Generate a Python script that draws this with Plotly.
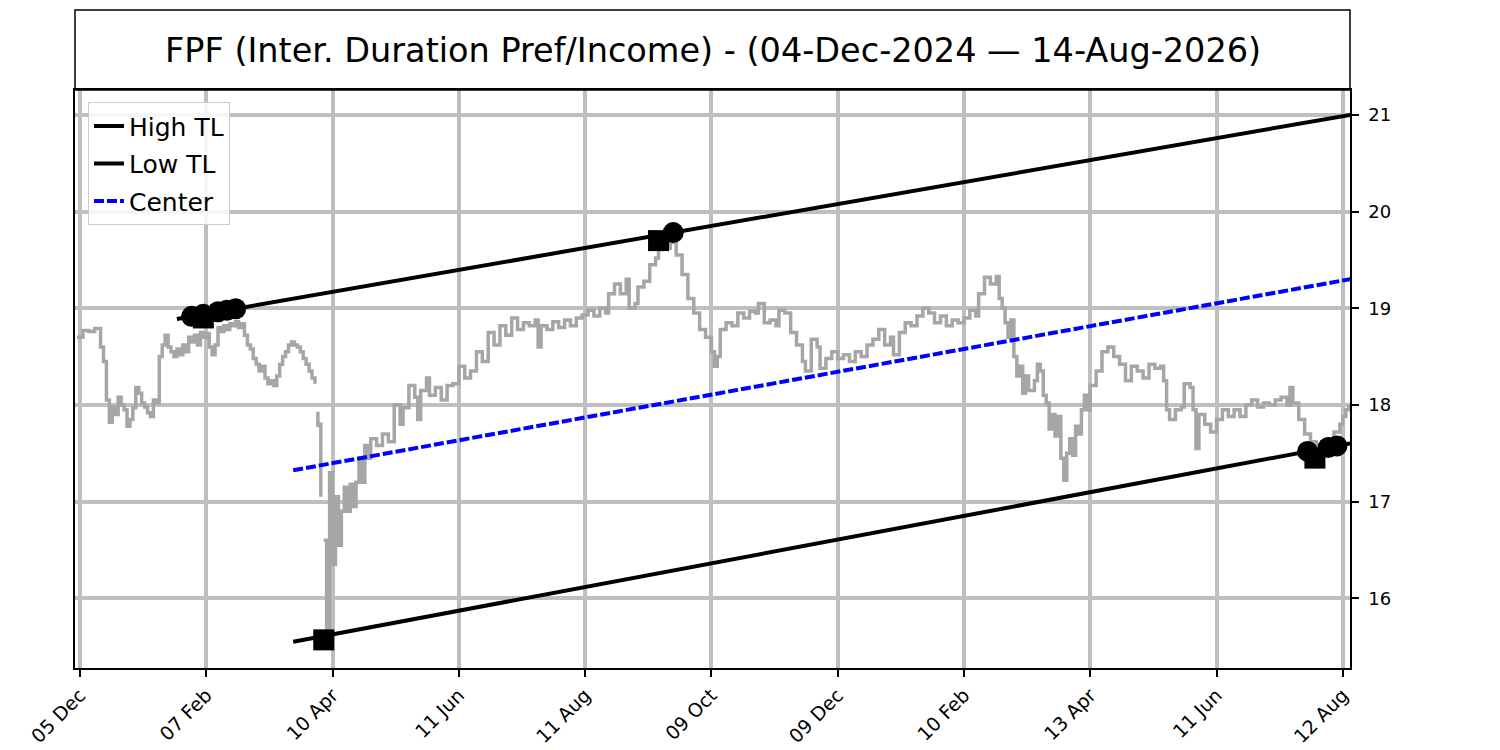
import plotly.graph_objects as go

TITLE = "FPF (Inter. Duration Pref/Income) - (04-Dec-2024 \u2014 14-Aug-2026)"

TICK_IDX = [1, 44, 87, 130, 173, 216, 259, 302, 345, 388, 431]
TICK_TEXT = ["05 Dec", "07 Feb", "10 Apr", "11 Jun", "11 Aug", "09 Oct",
             "09 Dec", "10 Feb", "13 Apr", "11 Jun", "12 Aug"]
Y_TICKS = [16, 17, 18, 19, 20, 21]

# price series (None = gap in data)
PRICE_IDX = [
    0, 2, 4, 6, 8, 9, 10, 11, 12, 13, 14, 15, 16, 17, 18, 19, 20, 21, 22, 23, 24, 25,
    26, 27, 28, 29, 30, 31, 32, 33, 34, 35, 36, 37, 38, 39, 40, 41, 42, 43, 44, 45,
    46, 47, 48, 49, 50, 51, 52, 53, 54, 55, 56, 57, 58, 59, 60, 61, 62, 63, 64, 65,
    66, 67, 68, 69, 70, 71, 72, 73, 74, 75, 76, 77, 78, 79, 80, 81,
    81.5, 82, 82, 82.5, 83, 83, 83.5,
    84, 85, 86, 87, 88, 89, 90, 91, 92, 93, 94, 95, 96, 97, 98, 99, 100, 102, 104,
    106, 108, 110, 111, 113, 115, 116, 117, 119, 120, 122, 124, 126, 128, 130, 132,
    134, 136, 138, 140, 142, 144, 146, 148, 150, 152, 154, 156, 157, 158, 160, 162,
    164, 166, 168, 170, 172, 174, 176, 178, 180, 181, 183, 185, 187, 188, 190, 191,
    193, 195, 197, 198, 200, 202, 204, 206, 208, 210, 212, 214, 216, 217, 218, 219,
    221, 223, 225, 227, 229, 231, 232, 234, 236, 238, 239, 241, 243, 245, 247, 248,
    250, 252, 253, 255, 257, 259, 261, 263, 265, 267, 269, 271, 273, 275, 277, 278,
    280, 282, 284, 286, 288, 290, 292, 294, 296, 298, 300, 302, 304, 306, 307, 309,
    311, 313, 314, 315, 316, 317, 318, 319, 320, 321, 322, 323, 324, 326, 327, 328,
    329, 330, 331, 332, 333, 334, 335, 336, 337, 338, 339, 340, 341, 342, 343, 344,
    345, 347, 349, 351, 353, 355, 357, 359, 361, 363, 365, 367, 369, 370, 371, 372,
    374, 376, 377, 379, 380, 381, 382, 384, 386, 388, 390, 392, 394, 396, 398, 400,
    402, 404, 406, 408, 410, 412, 413, 414, 416, 418, 420, 422, 424, 426, 428, 430,
    431, 432, 433,
]
PRICE_VAL = [
    18.70, 18.77, 18.76, 18.79, 18.60, 18.45, 18.05, 17.82, 17.98, 17.90, 18.08, 18.00,
    17.95, 17.78, 17.85, 17.97, 18.18, 18.12, 18.02, 17.98, 17.92, 17.88,
    18.05, 18.02, 18.50, 18.62, 18.72, 18.60, 18.55, 18.50, 18.58, 18.52, 18.62, 18.55,
    18.70, 18.65, 18.72, 18.62, 18.75, 18.70, 18.74, 18.60,
    18.52, 18.62, 18.80, 18.76, 18.82, 18.78, 18.84, 18.82, 18.86, 18.80, 18.84, 18.72,
    18.62, 18.58, 18.48, 18.42, 18.35, 18.40, 18.28, 18.22,
    18.25, 18.20, 18.30, 18.42, 18.50, 18.55, 18.62, 18.65, 18.62, 18.60, 18.55, 18.48,
    18.42, 18.35, 18.28, 18.22,
    None, 17.93, 17.77, None, 17.82, 17.05, None,
    16.60, 15.62, 17.30, 16.35, 17.05, 16.55, 16.90, 17.15, 16.90, 17.18, 16.95, 17.20,
    17.45, 17.20, 17.58, 17.45, 17.65, 17.58, 17.70,
    17.62, 18.00, 17.80, 17.97, 18.20, 18.08, 17.85, 18.15, 18.28, 18.10, 18.18, 18.05,
    18.20, 18.22, 18.40, 18.28,
    18.35, 18.55, 18.45, 18.75, 18.62, 18.82, 18.72, 18.90, 18.78, 18.85, 18.82, 18.88,
    18.60, 18.82, 18.78, 18.86,
    18.80, 18.88, 18.82, 18.90, 18.93, 18.98, 18.92, 19.00, 18.95, 19.15, 19.25, 19.15,
    19.30, 19.00, 19.05, 19.22,
    19.28, 19.45, 19.52, 19.65, 19.62, 19.68, 19.55, 19.35, 19.10, 18.95, 18.78, 18.70,
    18.55, 18.40, 18.50, 18.78,
    18.85, 18.82, 18.95, 18.90, 18.97, 18.95, 19.05, 18.85, 18.88, 18.82, 18.98, 18.95,
    18.75, 18.62, 18.45, 18.35,
    18.68, 18.60, 18.38, 18.48, 18.55, 18.48, 18.52, 18.45, 18.55, 18.50, 18.62, 18.68,
    18.78, 18.62, 18.70, 18.52,
    18.75, 18.85, 18.82, 18.92, 19.00, 18.95, 18.85, 18.92, 18.82, 18.88, 18.85, 18.90,
    18.98, 18.92, 19.15, 19.32,
    19.25, 19.33, 19.10, 19.00, 18.85, 18.70, 18.88, 18.50, 18.30, 18.40, 18.12, 18.30,
    18.15, 18.25, 18.42, 18.35,
    18.10, 18.02, 17.75, 17.90, 17.68, 17.88, 17.45, 17.22, 17.50, 17.65, 17.48, 17.78,
    17.70, 17.95, 18.10, 17.95,
    18.20, 18.35, 18.55, 18.60, 18.50, 18.42, 18.25, 18.40, 18.35, 18.28, 18.42, 18.38,
    18.40, 18.25, 17.95, 17.85,
    17.95, 17.98, 18.22, 18.18, 17.95, 17.55, 17.90, 17.80, 17.72, 17.85, 17.95, 17.88,
    17.95, 17.88, 18.00, 18.05,
    17.98, 18.02, 18.00, 18.05, 18.08, 18.00, 18.18, 18.02, 17.85, 17.70, 17.62, 17.58,
    17.62, 17.65, 17.72, 17.80,
    17.88, 17.95, 18.00,
]

# trend lines (endpoints in index space)
HIGH_TL_IDX = [34.0, 434.0]
HIGH_TL_VAL = [18.89, 21.003]
LOW_TL_IDX = [73.6, 434.0]
LOW_TL_VAL = [15.55, 17.605]

# touch points / anchors
HIGH_TOUCH_IDX = [39, 43, 48, 51, 54, 203]
LOW_TOUCH_IDX = [419, 426, 429]
HIGH_ANCHOR_IDX = [43, 198]
HIGH_ANCHOR_VAL = [18.90, 19.70]
LOW_ANCHOR_IDX = [84, 421.5]
LOW_ANCHOR_VAL = [15.57, 17.45]


def line_at(idx_pair, val_pair, i):
    (x0, x1), (y0, y1) = idx_pair, val_pair
    return y0 + (y1 - y0) * (i - x0) / (x1 - x0)


center_idx = LOW_TL_IDX
center_val = [(line_at(HIGH_TL_IDX, HIGH_TL_VAL, i) + line_at(LOW_TL_IDX, LOW_TL_VAL, i)) / 2
              for i in center_idx]

fig = go.Figure()
fig.add_trace(go.Scatter(x=PRICE_IDX, y=PRICE_VAL, mode="lines", line_shape="hv",
                         line=dict(color="#a6a6a6", width=3.5), showlegend=False,
                         connectgaps=False))
fig.add_trace(go.Scatter(x=HIGH_TL_IDX, y=HIGH_TL_VAL, mode="lines", name="High TL",
                         legendgroup="h", line=dict(color="black", width=4)))
fig.add_trace(go.Scatter(x=LOW_TL_IDX, y=LOW_TL_VAL, mode="lines", name="Low TL",
                         legendgroup="l", line=dict(color="black", width=4)))
fig.add_trace(go.Scatter(x=center_idx, y=center_val, mode="lines", name="Center",
                         legendgroup="c", line=dict(color="blue", width=4, dash="10px,3px")))

fig.add_trace(go.Scatter(x=HIGH_ANCHOR_IDX + LOW_ANCHOR_IDX,
                         y=HIGH_ANCHOR_VAL + LOW_ANCHOR_VAL, mode="markers",
                         marker=dict(symbol="square", size=21, color="black"),
                         showlegend=False))
fig.add_trace(go.Scatter(x=HIGH_TOUCH_IDX,
                         y=[line_at(HIGH_TL_IDX, HIGH_TL_VAL, i) for i in HIGH_TOUCH_IDX],
                         mode="markers", marker=dict(symbol="circle", size=21, color="black"),
                         showlegend=False))
fig.add_trace(go.Scatter(x=LOW_TOUCH_IDX,
                         y=[line_at(LOW_TL_IDX, LOW_TL_VAL, i) for i in LOW_TOUCH_IDX],
                         mode="markers", marker=dict(symbol="circle", size=21, color="black"),
                         showlegend=False))

PLOT_H = 578
fig.add_shape(type="rect", xref="paper", yref="paper", x0=0, x1=1, y0=1, y1=1 + 80 / PLOT_H,
              line=dict(color="black", width=1.5), fillcolor="rgba(0,0,0,0)")
fig.add_annotation(text=TITLE, xref="paper", yref="paper", x=0.5, y=1 + 40 / PLOT_H,
                   xanchor="center", yanchor="middle", showarrow=False,
                   font=dict(size=33.5, color="black", family="DejaVu Sans"))

fig.update_layout(
    width=1490, height=742,
    margin=dict(l=67, r=148, t=82, b=82, autoexpand=False),
    paper_bgcolor="white", plot_bgcolor="white",
    font=dict(family="DejaVu Sans", color="black"),
    legend=dict(x=0.0102, y=0.979, xanchor="left", yanchor="top",
                bgcolor="rgba(255,255,255,0.85)", bordercolor="#cccccc", borderwidth=1,
                font=dict(size=25), itemwidth=30, tracegroupgap=2),
    xaxis=dict(range=[-0.7, 433.45], tickmode="array", tickvals=TICK_IDX, ticktext=TICK_TEXT,
               tickangle=-45, ticks="outside", ticklen=7, tickwidth=1.5, tickcolor="black",
               showgrid=True, gridcolor="#bfbfbf", gridwidth=4, zeroline=False,
               showline=True, linecolor="black", linewidth=1.5, mirror=True,
               automargin=False, tickfont=dict(size=19)),
    yaxis=dict(range=[15.279, 21.258], side="right", tickmode="array", tickvals=Y_TICKS,
               ticks="outside", ticklen=7, tickwidth=1.5, tickcolor="black",
               ticklabelstandoff=6,
               showgrid=True, gridcolor="#bfbfbf", gridwidth=4, zeroline=False,
               showline=True, linecolor="black", linewidth=1.5, mirror=True,
               automargin=False, tickfont=dict(size=18)),
)

fig.write_html("out.html")
